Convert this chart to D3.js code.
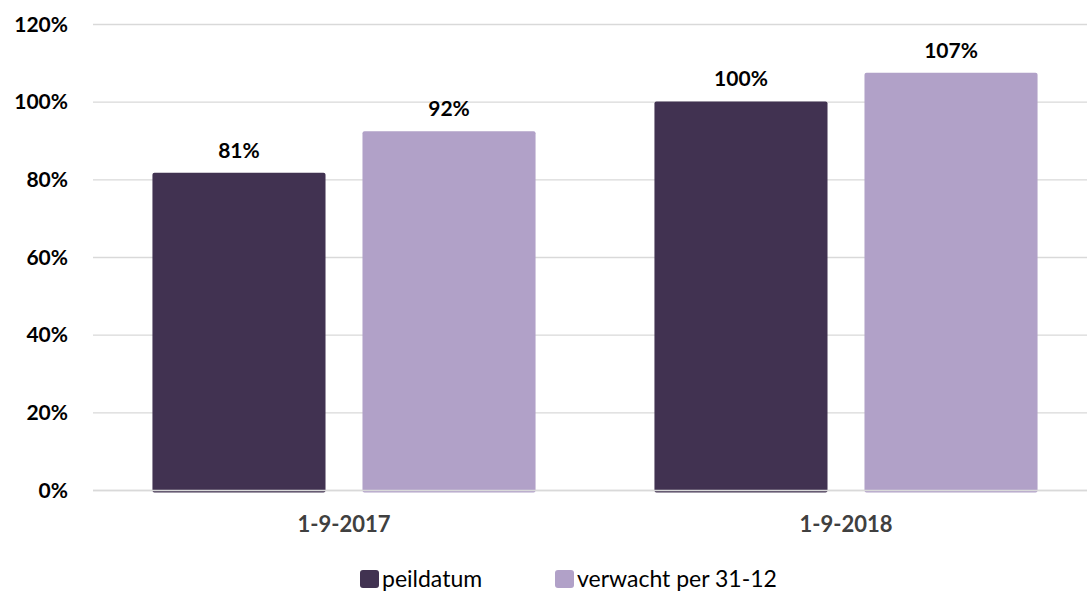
<!DOCTYPE html>
<html>
<head>
<meta charset="utf-8">
<script src="https://cdn.jsdelivr.net/npm/d3@7"></script>
<style>
  body { margin: 0; background: #fff; }
  svg { display: block; font-family: Lato, "Open Sans", sans-serif; }
</style>
</head>
<body>
<svg width="1087" height="592"></svg>
<script>
var categories = ['1-9-2017', '1-9-2018'];
var seriesNames = ['peildatum', 'verwacht per 31-12'];
var peildatum = [81.8, 100.2];
var verwacht = [92.5, 107.6];
var labels = [['81%', '100%'], ['92%', '107%']];
var yTicks = [0, 20, 40, 60, 80, 100, 120];
var colors = ['#413251', '#b1a1c8'];

var svg = d3.select('svg');
var plotLeft = 93, plotRight = 1097, plotTop = 24.5, plotBottom = 490.5;

var x = d3.scaleBand().domain(categories).range([plotLeft, plotRight]).paddingInner(0).paddingOuter(0);
var x1 = d3.scaleBand().domain([0, 1]).range([0, x.bandwidth()]).paddingInner(0.176).paddingOuter(0.283);
var y = d3.scaleLinear().domain([0, 120]).range([plotBottom, plotTop]);

// grid lines
svg.append('g').selectAll('line').data(yTicks).enter().append('line')
  .attr('x1', plotLeft).attr('x2', plotRight)
  .attr('y1', function (d) { return y(d); }).attr('y2', function (d) { return y(d); })
  .style('stroke', '#d9d9d9').style('stroke-width', 1.3);

// y labels
svg.append('g').selectAll('text').data(yTicks).enter().append('text')
  .attr('x', 68).attr('y', function (d) { return y(d) + 7; })
  .attr('text-anchor', 'end')
  .style('font-size', '21px').style('font-weight', 'bold').style('fill', '#000')
  .text(function (d) { return d + '%'; });

// bars
var series = [peildatum, verwacht];
series.forEach(function (vals, s) {
  var g = svg.append('g');
  g.selectAll('rect').data(vals).enter().append('rect')
    .attr('x', function (d, i) { return x(categories[i]) + x1(s); })
    .attr('y', function (d) { return y(d); })
    .attr('width', x1.bandwidth())
    .attr('height', function (d) { return y(0) - y(d) + 2; })
    .attr('rx', 2)
    .style('fill', colors[s]);
  g.selectAll('text').data(vals).enter().append('text')
    .attr('x', function (d, i) { return x(categories[i]) + x1(s) + x1.bandwidth() / 2; })
    .attr('y', function (d) { return y(d) - 15; })
    .attr('text-anchor', 'middle')
    .style('font-size', '21px').style('font-weight', 'bold').style('fill', '#000')
    .text(function (d, i) { return labels[s][i]; });
});

// zero line over bars
svg.append('line')
  .attr('x1', plotLeft).attr('x2', plotRight).attr('y1', y(0)).attr('y2', y(0))
  .style('stroke', '#d9d9d9').style('stroke-width', 1.3);

// x labels
svg.append('g').selectAll('text').data(categories).enter().append('text')
  .attr('x', function (d) { return x(d) + x.bandwidth() / 2; })
  .attr('y', 532)
  .attr('text-anchor', 'middle')
  .style('font-size', '22px').style('font-weight', 'bold').style('fill', '#404040')
  .text(function (d) { return d; });

// legend
var legendX = [360, 555];
var lg = svg.append('g');
seriesNames.forEach(function (name, s) {
  lg.append('rect')
    .attr('x', legendX[s]).attr('y', 570).attr('width', 19).attr('height', 18)
    .attr('rx', 3).style('fill', colors[s]);
  lg.append('text')
    .attr('x', legendX[s] + 22).attr('y', 587)
    .style('font-size', '23px').style('fill', '#000')
    .text(name);
});
</script>
</body>
</html>
